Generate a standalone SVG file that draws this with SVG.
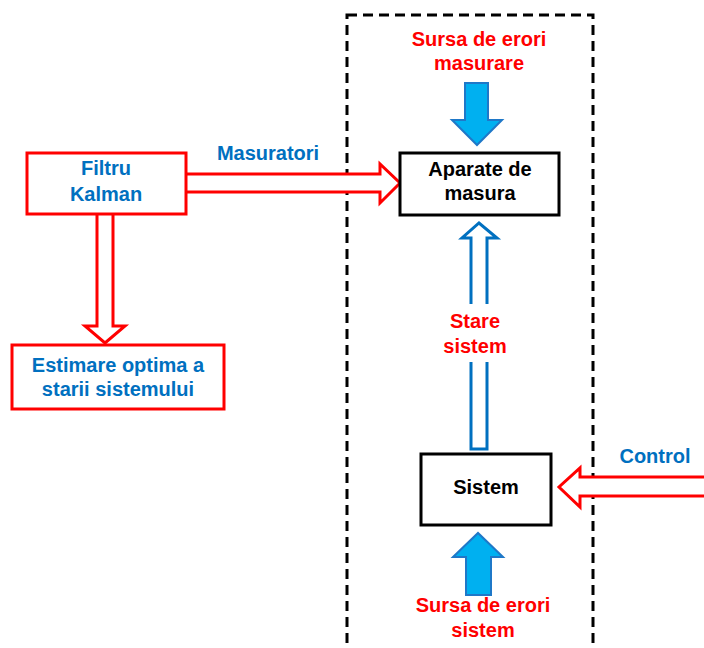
<svg xmlns="http://www.w3.org/2000/svg" width="704" height="648" viewBox="0 0 704 648">
<style>
text{font-family:"Liberation Sans",Arial,sans-serif;font-weight:bold;font-size:20px;text-anchor:middle}
.blue{fill:#0070C0}.red{fill:#FF0000}.blk{fill:#000}
.rbox{fill:#fff;stroke:#FF0000;stroke-width:3}
.kbox{fill:#fff;stroke:#000;stroke-width:3}
.rarrow{fill:#fff;stroke:#FF0000;stroke-width:3;stroke-linejoin:miter}
.barrow{fill:#fff;stroke:#0070C0;stroke-width:3}
.farrow{fill:#00B0F0;stroke:#1F78C8;stroke-width:2}
</style>
<rect width="704" height="648" fill="#fff"/>
<g id="boundary">
<rect x="347" y="15" width="246" height="660" fill="none" stroke="#000" stroke-width="3" stroke-dasharray="10 6"/>
</g>
<g id="connectors">
<path class="rarrow" d="M186,174 H380 V164 L400,183 L380,203 V192 H186"/>
<path class="rarrow" d="M97,214 V326 H85 L105,343 L125,326 H113 V214"/>
<path class="farrow" d="M465,83 H488 V120 H502 L477,145 L452,120 H465 Z"/>
<path class="barrow" d="M471,449 V238 H462 L479,223 L497,238 H487 V449 Z"/>
<rect x="462" y="304" width="36" height="58" fill="#fff"/>
<path class="rarrow" d="M706,477 H580 V468 L559,487 L580,507 V496 H706"/>
<path class="farrow" d="M466,595 V557 H453 L478,533 L503,557 H491 V595 Z"/>
</g>
<g id="kalman">
<rect class="rbox" x="27" y="153" width="159" height="61"/>
<text class="blue" x="106" y="175">Filtru</text>
<text class="blue" x="106" y="201">Kalman</text>
</g>
<g id="estimare">
<rect class="rbox" x="12" y="345" width="212" height="64"/>
<text class="blue" x="118" y="372">Estimare optima a</text>
<text class="blue" x="118" y="396">starii sistemului</text>
</g>
<g id="aparate">
<rect class="kbox" x="400" y="153" width="159" height="62"/>
<text class="blk" x="480" y="176">Aparate de</text>
<text class="blk" x="480" y="200">masura</text>
</g>
<g id="sistem">
<rect class="kbox" x="421" y="454" width="130" height="71"/>
<text class="blk" x="486" y="494">Sistem</text>
</g>
<g id="labels">
<text class="red" x="479" y="46">Sursa de erori</text>
<text class="red" x="479" y="70">masurare</text>
<text class="blue" x="268" y="160">Masuratori</text>
<text class="red" x="475" y="328">Stare</text>
<text class="red" x="475" y="353">sistem</text>
<text class="blue" x="655" y="463">Control</text>
<text class="red" x="483" y="612">Sursa de erori</text>
<text class="red" x="483" y="637">sistem</text>
</g>
</svg>
